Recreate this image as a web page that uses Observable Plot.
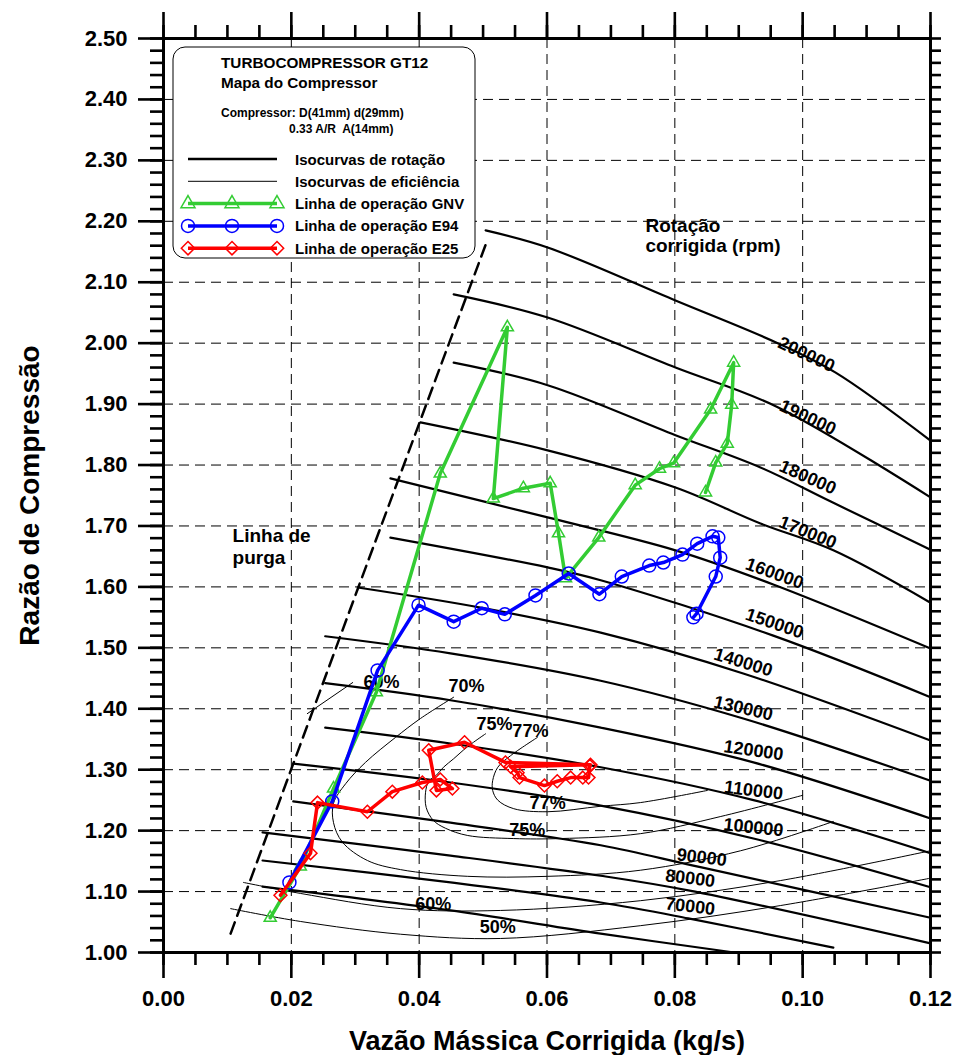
<!DOCTYPE html>
<html>
<head>
<meta charset="utf-8">
<script src="https://cdn.jsdelivr.net/npm/d3@7"></script>
<script src="https://cdn.jsdelivr.net/npm/@observablehq/plot@0.6"></script>
<style>
  html, body { margin: 0; padding: 0; background: #fff; }
  svg { display: block; }
  g[aria-label$="axis tick"] { stroke-width: 2.6px; }
</style>
</head>
<body>
<div id="chart"></div>
<script>
// ---------- axes ----------
const xMajor = [0, 0.02, 0.04, 0.06, 0.08, 0.10, 0.12];
const xMinor = d3.range(0, 25).map(i => i * 0.005);
const xGrid = [0.02, 0.04, 0.06, 0.08, 0.10];
const yMajor = [1.0, 1.1, 1.2, 1.3, 1.4, 1.5, 1.6, 1.7, 1.8, 1.9, 2.0, 2.1, 2.2, 2.3, 2.4, 2.5];
const yMinor = d3.range(0, 76).map(i => 1 + i * 0.02);
const yGrid = [1.1, 1.2, 1.3, 1.4, 1.5, 1.6, 1.7, 1.8, 1.9, 2.0, 2.1, 2.2, 2.3, 2.4];

// ---------- corrected speed lines (rpm) ----------
const speedRpm = [200000, 190000, 180000, 170000, 160000, 150000, 140000, 130000,
                  120000, 110000, 100000, 90000, 80000, 70000, 60000];
const speedX = [
  [0.0504, 0.0601, 0.0801, 0.0961, 0.1051, 0.1200],
  [0.0454, 0.0601, 0.0801, 0.0961, 0.1200],
  [0.0454, 0.0601, 0.0801, 0.0934, 0.1044, 0.1200],
  [0.0402, 0.0601, 0.0801, 0.0934, 0.1048, 0.1200],
  [0.0355, 0.0601, 0.0801, 0.0954, 0.1200],
  [0.0355, 0.0601, 0.0684, 0.0954, 0.1200],
  [0.0304, 0.0496, 0.0684, 0.0907, 0.1200],
  [0.0253, 0.0449, 0.0684, 0.0907, 0.1200],
  [0.0253, 0.0449, 0.0684, 0.0923, 0.1200],
  [0.0253, 0.0449, 0.0684, 0.0923, 0.1200],
  [0.0203, 0.0449, 0.0684, 0.0923, 0.1200],
  [0.0203, 0.0449, 0.0684, 0.0840, 0.1200],
  [0.0155, 0.0449, 0.0684, 0.0821, 0.1200],
  [0.0155, 0.0449, 0.0684, 0.0821, 0.1048],
  [0.0155, 0.0449, 0.0684, 0.0893]
];
const speedY = [
  [2.185, 2.157, 2.070, 2.000, 1.952, 1.840],
  [2.080, 2.042, 1.960, 1.895, 1.747],
  [1.968, 1.931, 1.849, 1.796, 1.740, 1.661],
  [1.870, 1.824, 1.763, 1.704, 1.660, 1.574],
  [1.778, 1.714, 1.660, 1.604, 1.499],
  [1.681, 1.632, 1.611, 1.520, 1.419],
  [1.599, 1.566, 1.525, 1.458, 1.348],
  [1.519, 1.491, 1.446, 1.384, 1.282],
  [1.442, 1.414, 1.369, 1.312, 1.220],
  [1.369, 1.343, 1.304, 1.250, 1.163],
  [1.310, 1.279, 1.241, 1.187, 1.107],
  [1.248, 1.213, 1.176, 1.140, 1.057],
  [1.197, 1.159, 1.126, 1.102, 1.015],
  [1.151, 1.115, 1.082, 1.056, 1.008],
  [1.108, 1.069, 1.031, 1.000]
];
const speedLabelText = ["200000", "190000", "180000", "170000", "160000", "150000", "140000",
                        "130000", "120000", "110000", "100000", "90000", "80000", "70000"];
const speedLabelX = [0.1006, 0.1008, 0.1008, 0.1008, 0.0956, 0.0956, 0.0907,
                     0.0907, 0.0923, 0.0923, 0.0923, 0.0842, 0.0824, 0.0824];
const speedLabelY = [1.9815, 1.8781, 1.7796, 1.6893, 1.6220, 1.5400, 1.4760,
                     1.4005, 1.3315, 1.2659, 1.2052, 1.1559, 1.1215, 1.0755];
const speedLabelAngle = [25, 25, 24, 22, 20, 19, 17, 13, 8, 7, 6, 7, 7, 7];

// ---------- surge line ----------
const surgeX = [0.0105, 0.0304, 0.0507];
const surgeY = [1.031, 1.597, 2.170];

// ---------- efficiency iso-curves ----------
const effId = ["77", "75", "70", "60a", "60b", "50"];
const effX = [
  [0.0585, 0.0543, 0.0523, 0.0515, 0.0515, 0.0523, 0.0548, 0.0601, 0.0684, 0.0746, 0.0851],
  [0.0504, 0.0485, 0.0469, 0.0454, 0.0438, 0.0427, 0.0415, 0.0410, 0.0411, 0.0422, 0.0441,
   0.0476, 0.0548, 0.0621, 0.0746, 0.0871, 0.1000],
  [0.0454, 0.0402, 0.0363, 0.0316, 0.0285, 0.0266, 0.0266, 0.0280, 0.0319, 0.0371, 0.0476,
   0.0601, 0.0746, 0.0903, 0.1048],
  [0.0296, 0.0225],
  [0.0125, 0.0214, 0.0371, 0.0527, 0.0746, 0.0965, 0.1200],
  [0.0105, 0.0214, 0.0371, 0.0527, 0.0746, 0.0965, 0.1200]
];
const effY = [
  [1.353, 1.323, 1.304, 1.282, 1.266, 1.250, 1.236, 1.231, 1.240, 1.246, 1.266],
  [1.359, 1.345, 1.332, 1.318, 1.304, 1.291, 1.281, 1.263, 1.238, 1.217, 1.204,
   1.192, 1.187, 1.187, 1.195, 1.223, 1.258],
  [1.419, 1.384, 1.353, 1.312, 1.277, 1.245, 1.213, 1.181, 1.151, 1.136, 1.125,
   1.125, 1.135, 1.167, 1.215],
  [1.443, 1.392],
  [1.115, 1.097, 1.072, 1.069, 1.085, 1.118, 1.167],
  [1.072, 1.051, 1.030, 1.023, 1.044, 1.077, 1.122]
];
const effLabelText = ["60%", "70%", "75%", "77%", "77%", "75%", "60%", "50%"];
const effLabelX = [0.0341, 0.0474, 0.0518, 0.0574, 0.0601, 0.0569, 0.0422, 0.0523];
const effLabelY = [1.443, 1.437, 1.374, 1.363, 1.245, 1.200, 1.079, 1.041];

// ---------- operating lines ----------
const gnvX = [0.0167, 0.0214, 0.0266, 0.0333, 0.0433, 0.0538, 0.0516, 0.0563, 0.0605, 0.0618, 0.0629,
              0.0681, 0.0738, 0.0776, 0.0798, 0.0856, 0.0892, 0.0889, 0.0882, 0.0864, 0.0848];
const gnvY = [1.057, 1.141, 1.269, 1.427, 1.786, 2.026, 1.745, 1.762, 1.770, 1.688, 1.614,
              1.681, 1.767, 1.794, 1.803, 1.891, 1.968, 1.899, 1.835, 1.804, 1.755];
const e94X = [0.0197, 0.0264, 0.0335, 0.0399, 0.0454, 0.0498, 0.0534, 0.0582, 0.0634, 0.0682, 0.0717,
              0.0760, 0.0782, 0.0812, 0.0835, 0.0859, 0.0868, 0.0871, 0.0864, 0.0834, 0.0829];
const e94Y = [1.115, 1.248, 1.463, 1.570, 1.543, 1.565, 1.555, 1.586, 1.622, 1.588, 1.617,
              1.635, 1.640, 1.653, 1.671, 1.683, 1.681, 1.648, 1.617, 1.556, 1.550];
const e25X = [0.0183, 0.0230, 0.0241, 0.0319, 0.0358, 0.0405, 0.0433, 0.0452, 0.0427, 0.0415, 0.0471,
              0.0535, 0.0668, 0.0543, 0.0554, 0.0557, 0.0596, 0.0616, 0.0637, 0.0656, 0.0665, 0.0667];
const e25Y = [1.094, 1.163, 1.246, 1.231, 1.264, 1.279, 1.284, 1.269, 1.266, 1.332, 1.345,
              1.312, 1.308, 1.305, 1.295, 1.287, 1.274, 1.281, 1.287, 1.287, 1.287, 1.306];

// ---------- annotations ----------
const noteText = ["Rotação", "corrigida (rpm)", "Linha de", "purga"];
const noteX = [0.0754, 0.0754, 0.0108, 0.0108];
const noteY = [2.1817, 2.1489, 1.6745, 1.6384];

const legendTitle = ["TURBOCOMPRESSOR GT12", "Mapa do Compressor"];
const legendSpec = ["Compressor: D(41mm) d(29mm)", "0.33 A/R  A(14mm)"];
const legendLabels = ["Isocurvas de rotação", "Isocurvas de eficiência",
                      "Linha de operação GNV", "Linha de operação E94", "Linha de operação E25"];

// ---------- build tables ----------
const font = "'Liberation Sans', Arial, Helvetica, sans-serif";
const GREEN = "#33cc33", BLUE = "#0000ff", RED = "#ff0000";
const zipXY = (xs, ys) => xs.map((x, i) => ({x, y: ys[i]}));

const speedRows = speedRpm.flatMap((rpm, k) => speedX[k].map((x, i) => ({rpm, x, y: speedY[k][i]})));
const effRows = effId.flatMap((id, k) => effX[k].map((x, i) => ({id, x, y: effY[k][i]})));
const speedLabels = speedLabelText.map((t, i) => ({text: t, x: speedLabelX[i], y: speedLabelY[i], angle: speedLabelAngle[i]}));
const effLabels = effLabelText.map((t, i) => ({text: t, x: effLabelX[i], y: effLabelY[i]}));
const notes = noteText.map((t, i) => ({text: t, x: noteX[i], y: noteY[i]}));
const surge = zipXY(surgeX, surgeY);
const gnv = zipXY(gnvX, gnvY);
const e94 = zipXY(e94X, e94Y);
const e25 = zipXY(e25X, e25Y);

const dash = {stroke: "black", strokeOpacity: 1, strokeWidth: 1, strokeDasharray: "10,6"};
const blank = () => "";

const chart = Plot.plot({
  width: 953,
  height: 1055,
  marginTop: 38, marginRight: 23, marginBottom: 103, marginLeft: 163,
  x: {domain: [0, 0.12], label: null},
  y: {domain: [1, 2.5], label: null},
  style: {fontFamily: font, color: "black", background: "white", overflow: "visible"},
  marks: [
    Plot.gridX(xGrid, dash),
    Plot.gridY(yGrid, dash),
    Plot.line(effRows, {x: "x", y: "y", z: "id", curve: "catmull-rom", stroke: "black", strokeWidth: 1}),
    Plot.line(speedRows, {x: "x", y: "y", z: "rpm", curve: "catmull-rom", stroke: "black", strokeWidth: 2.2}),
    Plot.line(surge, {x: "x", y: "y", stroke: "black", strokeWidth: 2.5, strokeDasharray: "12,7"}),
    Plot.text(speedLabels, {x: "x", y: "y", text: "text", rotate: "angle", fontSize: 18, fontWeight: "bold"}),
    Plot.text(effLabels, {x: "x", y: "y", text: "text", fontSize: 18, fontWeight: "bold"}),
    Plot.text(notes, {x: "x", y: "y", text: "text", textAnchor: "start", lineAnchor: "bottom", fontSize: 19, fontWeight: "bold"}),

    Plot.line(gnv, {x: "x", y: "y", stroke: GREEN, strokeWidth: 3.5, strokeLinejoin: "round"}),
    Plot.dot(gnv, {x: "x", y: "y", symbol: "triangle", r: 4.5, stroke: GREEN, fill: "none", strokeWidth: 1.5}),
    Plot.line(e94, {x: "x", y: "y", stroke: BLUE, strokeWidth: 3.5, strokeLinejoin: "round"}),
    Plot.dot(e94, {x: "x", y: "y", symbol: "circle", r: 6.5, stroke: BLUE, fill: "none", strokeWidth: 1.5}),
    Plot.line(e25, {x: "x", y: "y", stroke: RED, strokeWidth: 3.5, strokeLinejoin: "round"}),
    Plot.dot(e25, {x: "x", y: "y", symbol: "diamond2", r: 5.8, stroke: RED, fill: "none", strokeWidth: 1.5}),

    Plot.frame({stroke: "black", strokeWidth: 3}),
    Plot.axisX(xMinor, {anchor: "bottom", tickSize: 13, strokeWidth: 2.6, tickFormat: blank}),
    Plot.axisX(xMajor, {anchor: "bottom", tickSize: 26, tickPadding: 12, strokeWidth: 2.6,
                        tickFormat: d3.format(".2f"), fontSize: 22, fontWeight: "bold"}),
    Plot.axisX(xMinor, {anchor: "top", tickSize: 14, strokeWidth: 2.6, tickFormat: blank}),
    Plot.axisX(xMajor, {anchor: "top", tickSize: 27, strokeWidth: 2.6, tickFormat: blank}),
    Plot.axisY(yMinor, {anchor: "left", tickSize: 13, strokeWidth: 2.6, tickFormat: blank}),
    Plot.axisY(yMajor, {anchor: "left", tickSize: 25, tickPadding: 11, strokeWidth: 2.6,
                        tickFormat: d3.format(".2f"), fontSize: 22, fontWeight: "bold"}),
    Plot.axisY(yMinor, {anchor: "right", tickSize: 10, strokeWidth: 2.6, tickFormat: blank}),
    Plot.text(["Vazão Mássica Corrigida (kg/s)"], {text: d => d, frameAnchor: "bottom", dy: 89,
                                                    textAnchor: "middle", lineAnchor: "middle",
                                                    fontSize: 27, fontWeight: "bold"}),
    Plot.text(["Razão de Compressão"], {text: d => d, frameAnchor: "left", dx: -133, rotate: -90,
                                         textAnchor: "middle", lineAnchor: "middle",
                                         fontSize: 28, fontWeight: "bold"})
  ]
});

document.getElementById("chart").appendChild(chart);

// ---------- legend box inside the plot area ----------
const svg = d3.select(chart);
const lg = svg.append("g").attr("font-family", font).attr("fill", "black").attr("text-anchor", "start");
lg.append("rect")
  .attr("x", 173).attr("y", 47).attr("width", 302).attr("height", 211).attr("rx", 12)
  .attr("fill", "white").attr("stroke", "black").attr("stroke-width", 1);
lg.append("text").attr("x", 221).attr("y", 68).attr("font-size", 15.3).attr("font-weight", "bold").text(legendTitle[0]);
lg.append("text").attr("x", 221).attr("y", 88).attr("font-size", 15.3).attr("font-weight", "bold").text(legendTitle[1]);
lg.append("text").attr("x", 221).attr("y", 117).attr("font-size", 12).attr("font-weight", "bold").text(legendSpec[0]);
lg.append("text").attr("x", 289).attr("y", 133).attr("font-size", 12).attr("font-weight", "bold")
  .attr("xml:space", "preserve").style("white-space", "pre").text(legendSpec[1]);

const swatches = [
  {stroke: "black", width: 2.5, symbol: null},
  {stroke: "black", width: 1, symbol: null},
  {stroke: GREEN, width: 3.5, symbol: d3.symbolTriangle, size: Math.PI * 5.2 * 5.2},
  {stroke: BLUE, width: 3.5, symbol: d3.symbolCircle, size: Math.PI * 6.5 * 6.5},
  {stroke: RED, width: 3.5, symbol: d3.symbolDiamond2, size: Math.PI * 6 * 6}
];
legendLabels.forEach((label, i) => {
  const cy = 159 + i * 22.3;
  const s = swatches[i];
  lg.append("line").attr("x1", 188).attr("x2", 277).attr("y1", cy).attr("y2", cy)
    .attr("stroke", s.stroke).attr("stroke-width", s.width);
  if (s.symbol) {
    [188, 232, 277].forEach(px => {
      lg.append("path").attr("transform", `translate(${px},${cy})`)
        .attr("d", d3.symbol(s.symbol, s.size)())
        .attr("fill", "none").attr("stroke", s.stroke).attr("stroke-width", 1.5);
    });
  }
  lg.append("text").attr("x", 295).attr("y", cy + 5.5).attr("font-size", 15).attr("font-weight", "bold").text(label);
});
</script>
</body>
</html>
